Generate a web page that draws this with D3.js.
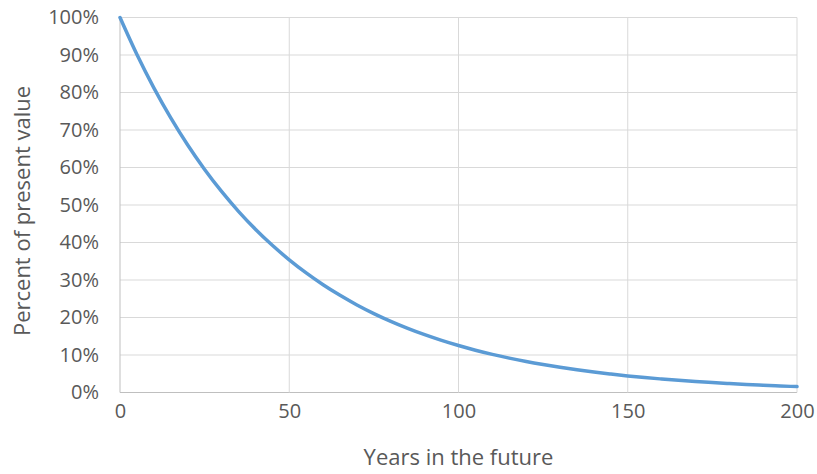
<!DOCTYPE html>
<html><head><meta charset="utf-8">
<script src="https://cdn.jsdelivr.net/npm/d3@7"></script>
<style>body{margin:0;background:#fff;}text{font-family:"Open Sans",sans-serif;}</style>
</head><body>
<svg id="c" width="817" height="474"></svg>
<script>
const years = [0,5,10,15,20,25,30,35,40,45,50,55,60,65,70,75,80,85,90,95,100,105,110,115,120,125,130,135,140,145,150,155,160,165,170,175,180,185,190,195,200];
const percentValue = [1.000,0.9013,0.8124,0.7322,0.6599,0.5948,0.5361,0.4832,0.4355,0.3926,0.3538,0.3189,0.2874,0.2591,0.2335,0.2105,0.1897,0.1710,0.1541,0.1389,0.1252,0.1128,0.1017,0.0917,0.0826,0.0745,0.0671,0.0605,0.0545,0.0492,0.0443,0.0399,0.0360,0.0324,0.0292,0.0264,0.0238,0.0214,0.0193,0.0174,0.0157];
const xTicks = [0,50,100,150,200];
const yTicks = [0,0.1,0.2,0.3,0.4,0.5,0.6,0.7,0.8,0.9,1.0];
const xTitle = "Years in the future";
const yTitle = "Percent of present value";

const svg = d3.select("#c");
const L=120, R=797, T=17.5, B=392.5;
const x = d3.scaleLinear().domain([0,200]).range([L,R]);
const y = d3.scaleLinear().domain([0,1]).range([B,T]);
const txt="#595959";

svg.append("g").selectAll("line").data(yTicks).join("line")
  .attr("x1",L).attr("x2",R).attr("y1",d=>y(d)).attr("y2",d=>y(d))
  .attr("stroke",d=>d===0?"#bfbfbf":"#d9d9d9").attr("stroke-width",1);
svg.append("g").selectAll("line").data(xTicks).join("line")
  .attr("x1",d=>x(d)).attr("x2",d=>x(d)).attr("y1",T).attr("y2",B)
  .attr("stroke",d=>d===0?"#bfbfbf":"#d9d9d9").attr("stroke-width",1);

const yAxis = d3.axisLeft(y).tickValues(yTicks).tickFormat(d3.format(".0%")).tickSize(0).tickPadding(21);
const gy = svg.append("g").attr("transform",`translate(${L},0)`).call(yAxis);
gy.select(".domain").remove();
gy.selectAll("text").attr("fill",txt).style("font-size","20px").style("font-family","'Open Sans',sans-serif");

const xAxis = d3.axisBottom(x).tickValues(xTicks).tickSize(0).tickPadding(11);
const gx = svg.append("g").attr("transform",`translate(0,${B})`).call(xAxis);
gx.select(".domain").remove();
gx.selectAll("text").attr("fill",txt).style("font-size","20px").style("font-family","'Open Sans',sans-serif");

const line = d3.line().x((d,i)=>x(years[i])).y(d=>y(d)).curve(d3.curveMonotoneX);
svg.append("path").datum(percentValue).attr("d",line)
  .attr("fill","none").attr("stroke","#5b9bd5").attr("stroke-width",3.5).attr("stroke-linecap","round");

svg.append("text").attr("x",(L+R)/2).attr("y",465).attr("text-anchor","middle")
  .attr("fill",txt).style("font-size","22px").text(xTitle);
svg.append("text").attr("transform",`translate(30,${(T+B)/2+6}) rotate(-90)`).attr("text-anchor","middle")
  .attr("fill",txt).style("font-size","22px").text(yTitle);
</script>
</body></html>
